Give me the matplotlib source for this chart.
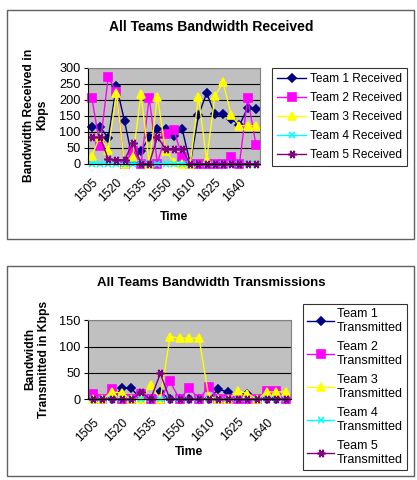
import matplotlib
matplotlib.use("Agg")
import matplotlib.pyplot as plt
from matplotlib.patches import Rectangle
from matplotlib.transforms import ScaledTranslation

plt.rcParams['font.family'] = ['Liberation Sans', 'DejaVu Sans']

# ---------------- data ----------------
times = ["1505", "1510", "1515", "1520", "1525", "1530", "1535", "1540", "1545", "1550",
         "1555", "1600", "1610", "1615", "1620", "1625", "1630", "1635", "1640", "1645", "1650"]

rx_team1 = [115, 115, 80, 243, 132, 8, 40, 82, 107, 108, 88, 110, 0, 151, 221, 154, 154, 140, 120, 175, 172]
rx_team2 = [206, 56, 270, 225, 0, 40, 0, 206, 0, 93, 105, 22, 0, 0, 0, 0, 0, 22, 0, 206, 60]
rx_team3 = [25, 85, 43, 220, 0, 22, 218, 0, 210, 40, 5, 0, 0, 209, 12, 212, 254, 152, 119, 119, 119]
rx_team4 = [0, 0, 0, 0, 0, 0, 2, 0, 0, 0, 0, 0, 0, 0, 0, 0, 0, 0, 0, 0, 0]
rx_team5 = [82, 82, 15, 12, 12, 65, 0, 0, 84, 45, 45, 45, 0, 0, 0, 0, 0, 0, 0, 0, 0]

tx_team1 = [0, 0, 0, 21, 21, 0, 0, 14, 0, 0, 0, 0, 0, 19, 14, 0, 10, 0, 0, 0, 0]
tx_team2 = [11, 0, 20, 0, 0, 10, 0, 0, 34, 0, 22, 0, 24, 0, 0, 0, 0, 0, 15, 15, 0]
tx_team3 = [0, 0, 14, 12, 0, 0, 27, 0, 119, 116, 116, 116, 5, 0, 0, 16, 11, 0, 14, 14, 14]
tx_team4 = [0, 0, 0, 0, 0, 0, 0, 0, 0, 0, 0, 0, 0, 0, 0, 0, 0, 0, 0, 0, 0]
tx_team5 = [0, 0, 0, 0, 0, 13, 0, 49, 0, 0, 0, 0, 0, 0, 0, 0, 0, 0, 0, 0, 0]

rx_labels = ["Team 1 Received", "Team 2 Received", "Team 3 Received",
             "Team 4 Received", "Team 5 Received"]
tx_labels = ["Team 1\nTransmitted", "Team 2\nTransmitted", "Team 3\nTransmitted",
             "Team 4\nTransmitted", "Team 5\nTransmitted"]

colors = ["#000080", "#FF00FF", "#FFFF00", "#00FFFF", "#800080"]
markers = ["D", "s", "^", "x", (6, 2, 90)]
msizes = [4.5, 6, 6, 5, 6]

W, H = 417, 480
fig = plt.figure(figsize=(W / 100, H / 100), dpi=100)
fig.patch.set_facecolor("white")


def px_axes(x0, y0, x1, y1):
    return fig.add_axes([x0 / W, 1 - y1 / H, (x1 - x0) / W, (y1 - y0) / H])


def border(x0, y0, x1, y1):
    fig.patches.append(Rectangle((x0 / W, 1 - y1 / H), (x1 - x0) / W, (y1 - y0) / H,
                                 transform=fig.transFigure, fill=False,
                                 edgecolor="#606060", linewidth=1.0))


def draw_chart(ax, series, labels, ymax, ystep, pad):
    n = len(times)
    xs = list(range(n))
    ax.set_facecolor("#C0C0C0")
    for vals, lab, c, m, ms in zip(series, labels, colors, markers, msizes):
        ax.plot(xs, vals, color=c, marker=m, markersize=ms, linewidth=1.0,
                markeredgecolor=c, markerfacecolor=c, markeredgewidth=1.2,
                label=lab, clip_on=False)
    ax.set_xlim(-0.5, n - 0.5)
    ax.set_ylim(0, ymax)
    ax.set_yticks(range(0, ymax + 1, ystep))
    ax.yaxis.grid(True, color="black", linewidth=0.8)
    ax.set_axisbelow(True)
    ax.set_xticks(xs[::3])
    ax.set_xticklabels(times[::3], rotation=45, ha="right", rotation_mode="anchor",
                       fontsize=8.8)
    off = ScaledTranslation(-4 / 100, 0, fig.dpi_scale_trans)
    for lbl in ax.get_xticklabels():
        lbl.set_transform(lbl.get_transform() + off)
    ax.tick_params(axis="x", length=0, pad=pad)
    ax.tick_params(axis="y", length=3, labelsize=9.2, pad=2)
    for s in ["top", "right"]:
        ax.spines[s].set_color("#808080")
    for s in ["left", "bottom"]:
        ax.spines[s].set_color("black")


# ---------------- chart 1 ----------------
border(7, 10, 414, 239)
ax1 = px_axes(87.7, 67.7, 260, 163.7)
draw_chart(ax1, [rx_team1, rx_team2, rx_team3, rx_team4, rx_team5], rx_labels, 300, 50, 9)
fig.text(211 / W, 1 - 27 / H, "All Teams Bandwidth Received", ha="center", va="center",
         fontsize=10, fontweight="bold")
fig.text(36 / W, 1 - 115 / H, "Bandwidth Received in\nKbps", ha="center", va="center",
         rotation=90, fontsize=8.7, fontweight="bold", linespacing=1.15)
fig.text(174 / W, 1 - 217 / H, "Time", ha="center", va="center",
         fontsize=8.7, fontweight="bold")
leg1 = ax1.legend(loc="upper left", bbox_to_anchor=(272 / W, 1 - 68 / H),
                  bbox_transform=fig.transFigure, fontsize=8.6, frameon=True,
                  fancybox=False, edgecolor="black", handlelength=2.4,
                  borderaxespad=0, labelspacing=0.58, handletextpad=0.3,
                  borderpad=0.45)
leg1.get_frame().set_linewidth(0.8)

# ---------------- chart 2 ----------------
border(7, 266, 414, 476)
ax2 = px_axes(87.7, 320.3, 291, 399.3)
draw_chart(ax2, [tx_team1, tx_team2, tx_team3, tx_team4, tx_team5], tx_labels, 150, 50, 12)
fig.text(211 / W, 1 - 283 / H, "All Teams Bandwidth Transmissions", ha="center",
         va="center", fontsize=9.5, fontweight="bold")
fig.text(37 / W, 1 - 359 / H, "Bandwidth\nTransmitted in Kbps", ha="center", va="center",
         rotation=90, fontsize=8.7, fontweight="bold", linespacing=1.15)
fig.text(189 / W, 1 - 452 / H, "Time", ha="center", va="center",
         fontsize=8.7, fontweight="bold")
leg2 = ax2.legend(loc="upper left", bbox_to_anchor=(303 / W, 1 - 304 / H),
                  bbox_transform=fig.transFigure, fontsize=9, frameon=True,
                  fancybox=False, edgecolor="black", handlelength=2.2,
                  borderaxespad=0, labelspacing=0.5, handletextpad=0.2,
                  borderpad=0.3)
leg2.get_frame().set_linewidth(0.8)
for t in leg2.get_texts():
    t.set_linespacing(1.3)

fig.savefig("out.png", dpi=100, facecolor="white")
